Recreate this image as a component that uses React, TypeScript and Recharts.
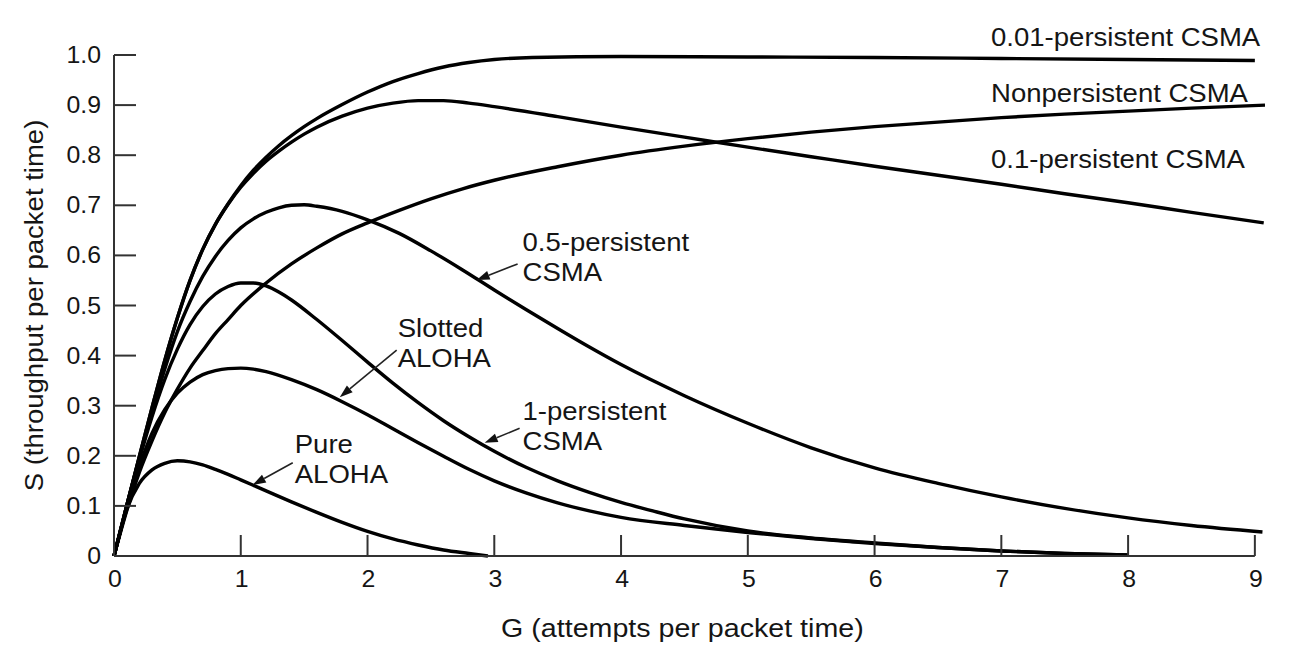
import React from 'react';
import { LineChart, Line, XAxis, YAxis, ReferenceLine, ReferenceDot } from 'recharts';

type Pt = [number, number];

// Axis ticks
const xTicks = [0, 1, 2, 3, 4, 5, 6, 7, 8, 9];
const yTicks = [0, 0.1, 0.2, 0.3, 0.4, 0.5, 0.6, 0.7, 0.8, 0.9, 1.0];

// G (attempts per packet time), S (throughput per packet time)
const pureAloha: Pt[] = [
  [0, 0], [0.1, 0.092], [0.2, 0.145], [0.3, 0.172], [0.4, 0.185], [0.5, 0.19],
  [0.6, 0.188], [0.7, 0.182], [0.8, 0.173], [0.9, 0.163], [1.0, 0.152], [1.1, 0.141],
  [1.2, 0.13], [1.4, 0.108], [1.6, 0.087], [1.8, 0.067], [2.0, 0.049], [2.2, 0.034],
  [2.4, 0.022], [2.6, 0.012], [2.8, 0.005], [2.95, 0],
];

const slottedAloha: Pt[] = [
  [0, 0], [0.1, 0.094], [0.2, 0.178], [0.3, 0.245], [0.4, 0.292], [0.5, 0.325], [0.6, 0.347],
  [0.7, 0.362], [0.8, 0.37], [0.9, 0.374], [1.0, 0.375], [1.1, 0.373], [1.2, 0.368],
  [1.4, 0.352], [1.6, 0.332], [1.8, 0.308], [2.0, 0.282], [2.2, 0.254], [2.4, 0.226],
  [2.6, 0.199], [2.8, 0.173], [3.0, 0.15], [3.25, 0.126], [3.5, 0.106], [3.75, 0.09],
  [4.0, 0.077], [4.5, 0.061], [5.0, 0.047], [5.5, 0.035], [6.0, 0.025], [6.5, 0.017],
  [7.0, 0.01], [7.5, 0.005], [8.0, 0.002],
];

const persistent1: Pt[] = [
  [0, 0], [0.1, 0.1], [0.2, 0.193], [0.3, 0.278], [0.4, 0.352], [0.5, 0.413], [0.6, 0.462],
  [0.7, 0.498], [0.8, 0.523], [0.9, 0.538], [1.0, 0.545], [1.1, 0.545], [1.2, 0.539],
  [1.3, 0.527], [1.4, 0.511], [1.6, 0.472], [1.8, 0.43], [2.0, 0.387], [2.2, 0.345],
  [2.4, 0.306], [2.6, 0.27], [2.8, 0.238], [3.0, 0.209], [3.25, 0.177], [3.5, 0.15],
  [3.75, 0.127], [4.0, 0.107], [4.25, 0.09], [4.5, 0.074], [5.0, 0.05], [5.5, 0.036],
  [6.0, 0.026], [6.5, 0.017], [7.0, 0.01], [7.5, 0.005], [8.0, 0.002],
];

const persistent05: Pt[] = [
  [0, 0], [0.1, 0.1], [0.2, 0.196], [0.3, 0.288], [0.4, 0.373], [0.5, 0.448], [0.6, 0.508],
  [0.7, 0.558], [0.8, 0.598], [0.9, 0.63], [1.0, 0.655], [1.1, 0.673], [1.2, 0.686],
  [1.3, 0.695], [1.4, 0.7], [1.5, 0.701], [1.6, 0.698], [1.8, 0.688], [2.0, 0.671],
  [2.25, 0.644], [2.5, 0.609], [2.75, 0.571], [3.0, 0.531], [3.25, 0.492], [3.5, 0.454],
  [3.75, 0.417], [4.0, 0.382], [4.5, 0.32], [5.0, 0.265], [5.5, 0.216], [6.0, 0.176],
  [6.5, 0.145], [7.0, 0.118], [7.5, 0.095], [8.0, 0.076], [8.5, 0.061], [9.06, 0.048],
];

const nonpersistent: Pt[] = [
  [0, 0], [0.1, 0.09], [0.2, 0.167], [0.3, 0.23], [0.4, 0.286], [0.5, 0.333], [0.6, 0.375],
  [0.7, 0.41], [0.8, 0.444], [0.9, 0.472], [1.0, 0.5], [1.2, 0.545], [1.4, 0.583],
  [1.6, 0.615], [1.8, 0.643], [2.0, 0.665], [2.25, 0.69], [2.5, 0.713], [2.75, 0.733],
  [3.0, 0.75], [3.5, 0.777], [4.0, 0.8], [4.5, 0.818], [5.0, 0.833], [5.5, 0.846],
  [6.0, 0.857], [6.5, 0.866], [7.0, 0.875], [7.5, 0.882], [8.0, 0.888], [8.5, 0.894],
  [9.08, 0.9],
];

const persistent01: Pt[] = [
  [0, 0], [0.1, 0.1], [0.2, 0.199], [0.3, 0.296], [0.4, 0.39], [0.5, 0.475], [0.6, 0.55],
  [0.7, 0.612], [0.8, 0.662], [0.9, 0.702], [1.0, 0.736], [1.1, 0.764], [1.2, 0.788],
  [1.3, 0.808], [1.4, 0.826], [1.5, 0.842], [1.6, 0.856], [1.8, 0.878], [2.0, 0.894],
  [2.2, 0.904], [2.4, 0.909], [2.6, 0.909], [2.8, 0.904], [3.0, 0.897], [3.5, 0.877],
  [4.0, 0.856], [4.5, 0.836], [5.0, 0.816], [5.5, 0.797], [6.0, 0.778], [6.5, 0.76],
  [7.0, 0.742], [7.5, 0.723], [8.0, 0.705], [8.5, 0.686], [9.07, 0.665],
];

const persistent001: Pt[] = [
  [0, 0], [0.1, 0.1], [0.2, 0.199], [0.3, 0.296], [0.4, 0.39], [0.5, 0.475], [0.6, 0.55],
  [0.7, 0.612], [0.8, 0.662], [0.9, 0.703], [1.0, 0.739], [1.1, 0.77], [1.2, 0.796],
  [1.3, 0.819], [1.4, 0.839], [1.5, 0.857], [1.6, 0.873], [1.8, 0.901], [2.0, 0.926],
  [2.2, 0.947], [2.4, 0.963], [2.6, 0.976], [2.8, 0.985], [3.0, 0.991], [3.3, 0.995],
  [4.0, 0.997], [5.0, 0.996], [6.0, 0.995], [7.0, 0.993], [8.0, 0.991], [9.0, 0.989],
];

const seriesList = [
  { name: 'Pure ALOHA', pts: pureAloha },
  { name: 'Slotted ALOHA', pts: slottedAloha },
  { name: '1-persistent CSMA', pts: persistent1 },
  { name: '0.5-persistent CSMA', pts: persistent05 },
  { name: 'Nonpersistent CSMA', pts: nonpersistent },
  { name: '0.1-persistent CSMA', pts: persistent01 },
  { name: '0.01-persistent CSMA', pts: persistent001 },
];

// Annotation texts: anchor (G, S) = left end of first baseline
const textLabels = [
  { g: 6.919, s: 1.017, lines: ['0.01-persistent CSMA'] },
  { g: 6.919, s: 0.907, lines: ['Nonpersistent CSMA'] },
  { g: 6.919, s: 0.774, lines: ['0.1-persistent CSMA'] },
  { g: 3.223, s: 0.608, lines: ['0.5-persistent', 'CSMA'] },
  { g: 2.238, s: 0.437, lines: ['Slotted', 'ALOHA'] },
  { g: 3.223, s: 0.271, lines: ['1-persistent', 'CSMA'] },
  { g: 1.426, s: 0.206, lines: ['Pure', 'ALOHA'] },
];

// Arrows: from label to curve
const arrows = [
  { from: [3.184, 0.583], to: [2.861, 0.551] },
  { from: [2.23, 0.411], to: [1.781, 0.317] },
  { from: [3.2, 0.255], to: [2.924, 0.226] },
  { from: [1.41, 0.186], to: [1.095, 0.142] },
];

const xTitle = 'G (attempts per packet time)';
const yTitle = 'S (throughput per packet time)';

const FONT = '"Liberation Sans", Arial, Helvetica, sans-serif';
const SX = 1.08;

const StretchText = ({ x, y, size, anchor, lines, gap, rotate }: any) => (
  <text
    transform={`translate(${x},${y})${rotate ? ` rotate(${rotate})` : ''} scale(${SX},1)`}
    fontFamily={FONT}
    fontSize={size}
    textAnchor={anchor}
    fill="#151515"
  >
    {lines.map((l: string, i: number) => (
      <tspan key={i} x={0} dy={i === 0 ? 0 : gap}>{l}</tspan>
    ))}
  </text>
);

const YTick = (props: any) => {
  const { x, y, payload } = props;
  const v = payload.value;
  const label = v === 0 ? '0' : v.toFixed(1);
  return (
    <g>
      <line x1={x} y1={y} x2={x + 22} y2={y} stroke="#333" strokeWidth={2} />
      <StretchText x={x - 13} y={y + 8} size={23} anchor="end" lines={[label]} />
    </g>
  );
};

const XTick = (props: any) => {
  const { x, y, payload } = props;
  return (
    <g>
      <line x1={x} y1={y} x2={x} y2={y - 21} stroke="#333" strokeWidth={2} />
      <StretchText x={x + 1} y={y + 31} size={23} anchor="middle" lines={[String(payload.value)]} />
    </g>
  );
};

const ArrowShape = (props: any) => {
  const { x1, y1, x2, y2 } = props;
  const dx = x2 - x1;
  const dy = y2 - y1;
  const len = Math.sqrt(dx * dx + dy * dy) || 1;
  const ux = dx / len;
  const uy = dy / len;
  const hl = 13;
  const hw = 4.5;
  const bx = x2 - ux * hl;
  const by = y2 - uy * hl;
  const pts = `${x2},${y2} ${bx - uy * hw},${by + ux * hw} ${bx + uy * hw},${by - ux * hw}`;
  return (
    <g>
      <line x1={x1} y1={y1} x2={bx} y2={by} stroke="#222" strokeWidth={1.6} />
      <polygon points={pts} fill="#111" />
    </g>
  );
};

export default function App() {
  return (
    <div style={{ position: 'absolute', left: 0, top: 0, background: '#fff' }}>
      <LineChart
        width={1298}
        height={655}
        margin={{ top: 55, right: 33, bottom: 59, left: 54 }}
      >
        <XAxis
          type="number"
          dataKey="g"
          domain={[0, 9.07]}
          ticks={xTicks}
          interval={0}
          height={40}
          axisLine={false}
          tickLine={false}
          tickSize={0}
          tickMargin={0}
          tick={(p: any) => <XTick {...p} />}
          allowDuplicatedCategory={false}
        />
        <YAxis
          type="number"
          dataKey="s"
          domain={[0, 1]}
          ticks={yTicks}
          interval={0}
          width={60}
          axisLine={{ stroke: '#333', strokeWidth: 2 }}
          tickLine={false}
          tickSize={0}
          tickMargin={0}
          tick={(p: any) => <YTick {...p} />}
        />
        {seriesList.map((ser) => (
          <Line
            key={ser.name}
            name={ser.name}
            data={ser.pts.map(([g, s]) => ({ g, s }))}
            dataKey="s"
            type="monotone"
            stroke="#000"
            strokeWidth={3.4}
            dot={false}
            activeDot={false}
            isAnimationActive={false}
          />
        ))}
        <ReferenceLine
          segment={[{ x: 0, y: 0 }, { x: 9, y: 0 }]}
          stroke="#333"
          strokeWidth={2}
        />
        {arrows.map((a, i) => (
          <ReferenceLine
            key={`arrow-${i}`}
            segment={[{ x: a.from[0], y: a.from[1] }, { x: a.to[0], y: a.to[1] }]}
            ifOverflow="visible"
            shape={(p: any) => <ArrowShape {...p} />}
          />
        ))}
        {textLabels.map((t, i) => (
          <ReferenceDot
            key={`txt-${i}`}
            x={t.g}
            y={t.s}
            r={0}
            ifOverflow="visible"
            shape={(p: any) => (
              <StretchText x={p.cx} y={p.cy} size={25.5} anchor="start" lines={t.lines} gap={30} />
            )}
          />
        ))}
        <ReferenceDot
          x={4.484}
          y={-0.162}
          r={0}
          ifOverflow="visible"
          shape={(p: any) => (
            <StretchText x={p.cx} y={p.cy} size={26.5} anchor="middle" lines={[xTitle]} />
          )}
        />
        <ReferenceDot
          x={-0.559}
          y={0.5}
          r={0}
          ifOverflow="visible"
          shape={(p: any) => (
            <StretchText x={p.cx} y={p.cy} size={25.5} anchor="middle" lines={[yTitle]} rotate={-90} />
          )}
        />
      </LineChart>
    </div>
  );
}
